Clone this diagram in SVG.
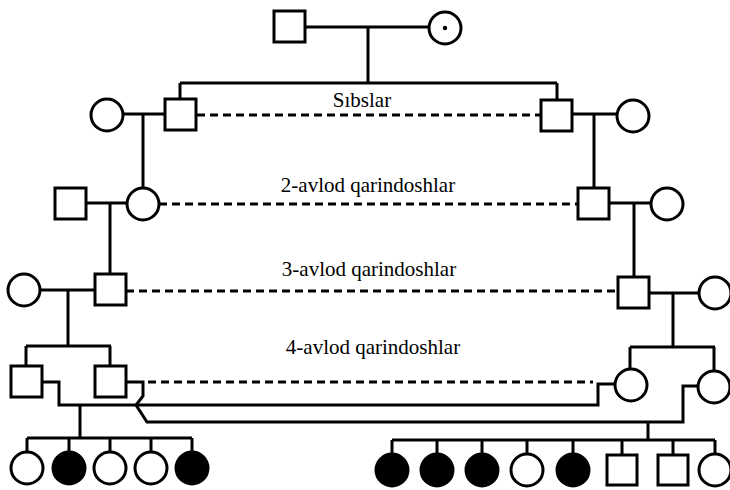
<svg xmlns="http://www.w3.org/2000/svg" width="730" height="490" viewBox="0 0 730 490">
<style>
.n{fill:#fff;stroke:#000;stroke-width:3}
.f{fill:#000;stroke:#000;stroke-width:3}
.l{fill:none;stroke:#000;stroke-width:3;stroke-linejoin:miter}
.d{fill:none;stroke:#000;stroke-width:3;stroke-dasharray:8 5}
.t{font-family:"Liberation Serif","Times New Roman",serif;font-size:21px;fill:#000;text-anchor:middle}
</style>
<rect width="730" height="490" fill="#fff"/>
<g id="connectors">
<path class="l" d="M305 27H429M368 27V83M180 83H557M180 83V99M557 83V100"/>
<path class="l" d="M123 114H165M143 114V188"/>
<path class="l" d="M572 114H617M594 114V188"/>
<path class="l" d="M87 203H127M110 203V274"/>
<path class="l" d="M609 203H651M634 203V277"/>
<path class="l" d="M40 290H95M68 290V346M26 346H111M26 346V366M110 346V366"/>
<path class="l" d="M649 293H699M673 293V347M630 347H715M630 347V369M714 347V371"/>
<path class="l" d="M43 382H59V405H598V384H615"/>
<path class="l" d="M127 382H143V396L136 405L147 422H683V386H698"/>
<path class="l" d="M80 405V438M27 438H192M27 438V452M69 438V452M110 438V452M151 438V452M192 438V452"/>
<path class="l" d="M648 422V440M392 440H715M392 440V454M437 440V454M482 440V454M527 440V454M573 440V454M622 440V455M673 440V455M715 440V454"/>
<path class="d" d="M197 115H540"/>
<path class="d" d="M159 204H578"/>
<path class="d" d="M126 291H618"/>
<path class="d" d="M148 382H593"/>
</g>
<g id="g0m"><rect class="n" x="274" y="11" width="31" height="31"/></g>
<g id="g0f"><circle class="n" cx="445" cy="28" r="16"/><circle cx="445" cy="28" r="2.2" fill="#000"/></g>
<g id="g1lw"><circle class="n" cx="107" cy="115" r="16"/></g>
<g id="g1lm"><rect class="n" x="165" y="99" width="31" height="31"/></g>
<g id="g1rm"><rect class="n" x="541" y="100" width="31" height="31"/></g>
<g id="g1rw"><circle class="n" cx="633" cy="116" r="16"/></g>
<g id="g2lm"><rect class="n" x="55" y="188" width="31" height="31"/></g>
<g id="g2lf"><circle class="n" cx="143" cy="204" r="16"/></g>
<g id="g2rm"><rect class="n" x="578" y="188" width="31" height="31"/></g>
<g id="g2rw"><circle class="n" cx="667" cy="204" r="16"/></g>
<g id="g3lw"><circle class="n" cx="24" cy="290" r="16"/></g>
<g id="g3lm"><rect class="n" x="95" y="274" width="31" height="31"/></g>
<g id="g3rm"><rect class="n" x="618" y="277" width="31" height="31"/></g>
<g id="g3rw"><circle class="n" cx="715" cy="293" r="16"/></g>
<g id="g4l1"><rect class="n" x="11" y="366" width="31" height="31"/></g>
<g id="g4l2"><rect class="n" x="95" y="366" width="31" height="31"/></g>
<g id="g4r1"><circle class="n" cx="631" cy="385" r="16"/></g>
<g id="g4r2"><circle class="n" cx="714" cy="387" r="16"/></g>
<g id="cl1"><circle class="n" cx="27" cy="468" r="16"/></g>
<g id="cl2"><circle class="f" cx="69" cy="468" r="16"/></g>
<g id="cl3"><circle class="n" cx="110" cy="468" r="16"/></g>
<g id="cl4"><circle class="n" cx="151" cy="468" r="16"/></g>
<g id="cl5"><circle class="f" cx="192" cy="468" r="16"/></g>
<g id="cr1"><circle class="f" cx="392" cy="470" r="16"/></g>
<g id="cr2"><circle class="f" cx="437" cy="470" r="16"/></g>
<g id="cr3"><circle class="f" cx="482" cy="470" r="16"/></g>
<g id="cr4"><circle class="n" cx="527" cy="470" r="16"/></g>
<g id="cr5"><circle class="f" cx="573" cy="470" r="16"/></g>
<g id="cr6"><rect class="n" x="607" y="455" width="30" height="30"/></g>
<g id="cr7"><rect class="n" x="658" y="455" width="30" height="30"/></g>
<g id="cr8"><circle class="n" cx="715" cy="470" r="16"/></g>
<g id="labels">
<text class="t" x="362" y="107">Sıbslar</text>
<text class="t" x="368" y="192">2-avlod qarindoshlar</text>
<text class="t" x="369" y="276">3-avlod qarindoshlar</text>
<text class="t" x="373" y="354">4-avlod qarindoshlar</text>
</g>
</svg>
